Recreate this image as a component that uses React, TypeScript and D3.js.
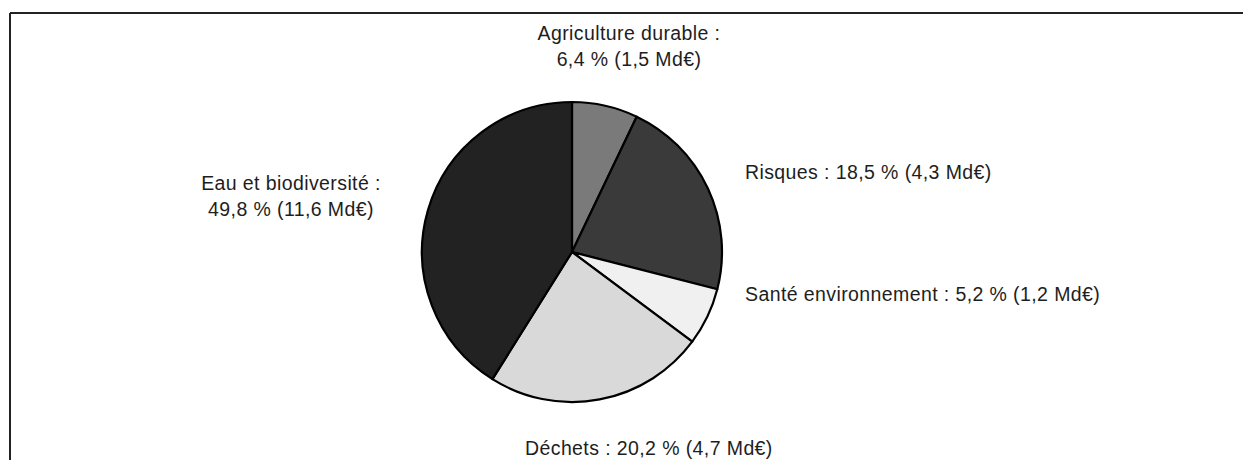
import React from "react";
import * as d3 from "d3";

// Category names and labels
const categories = ["Agriculture durable", "Risques", "Santé environnement", "Déchets", "Eau et biodiversité"];
const labelLines: string[][] = [
  ["Agriculture durable :", "6,4 % (1,5 Md€)"],
  ["Risques : 18,5 % (4,3 Md€)"],
  ["Santé environnement : 5,2 % (1,2 Md€)"],
  ["Déchets : 20,2 % (4,7 Md€)"],
  ["Eau et biodiversité :", "49,8 % (11,6 Md€)"],
];
// Slice shares as drawn in the picture (%)
const sliceShares = [7.1, 21.9, 6.2, 23.7, 41.1];
const fills = ["#7a7a7a", "#3a3a3a", "#f0f0f0", "#d9d9d9", "#222222"];

const W = 1243;
const H = 460;
const cx = 572;
const cy = 252;
const R = 150;

// label anchor positions
const labelPos = [
  { x: 629, y: 40, anchor: "middle" },
  { x: 745, y: 179, anchor: "start" },
  { x: 745, y: 301, anchor: "start" },
  { x: 525, y: 455, anchor: "start" },
  { x: 291, y: 190, anchor: "middle" },
];

export default function App() {
  const pie = d3.pie<number>().sort(null).value((d) => d);
  const arcs = pie(sliceShares);
  const arc = d3.arc<d3.PieArcDatum<number>>().innerRadius(0).outerRadius(R);
  return (
    <svg
      width={W}
      height={H}
      style={{ position: "absolute", left: 0, top: 0, background: "#fff" }}
      fontFamily="'Liberation Sans', Arial, sans-serif"
    >
      <rect x={0} y={0} width={W} height={H} fill="#fff" />
      <line x1={10} y1={13} x2={W} y2={13} stroke="#222" strokeWidth={2} />
      <line x1={10} y1={13} x2={10} y2={H} stroke="#222" strokeWidth={2} />
      <g transform={`translate(${cx},${cy})`}>
        {arcs.map((a, i) => (
          <path key={categories[i]} d={arc(a) || ""} fill={fills[i]} stroke="#000" strokeWidth={2.2} strokeLinejoin="round" />
        ))}
      </g>
      {labelLines.map((lines, i) => (
        <text
          key={categories[i]}
          x={labelPos[i].x}
          y={labelPos[i].y}
          textAnchor={labelPos[i].anchor as any}
          fontSize={19.5}
          letterSpacing={0.4}
          fill="#1e1e1e"
        >
          {lines.map((l, j) => (
            <tspan key={j} x={labelPos[i].x} dy={j === 0 ? 0 : 25.5}>
              {l}
            </tspan>
          ))}
        </text>
      ))}
    </svg>
  );
}
